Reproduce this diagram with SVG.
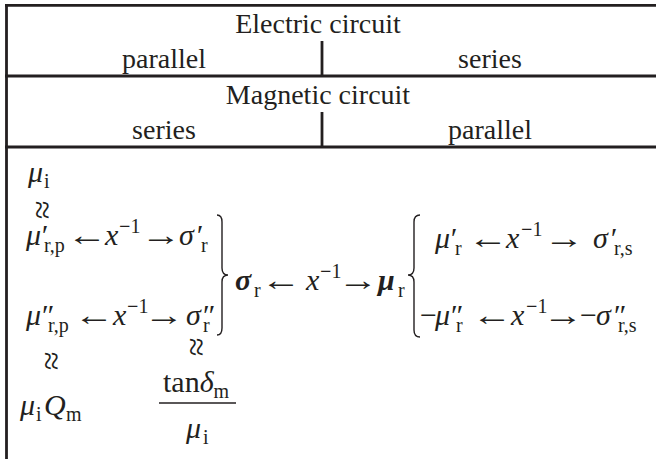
<svg xmlns="http://www.w3.org/2000/svg" width="656" height="459" viewBox="0 0 656 459">
<style>
.ln{stroke:#231f20;stroke-width:2.8;fill:none}
.br{stroke:#231f20;stroke-width:1.4;fill:none}
.t{font-family:'Liberation Serif','Times New Roman',serif;font-size:28px;fill:#231f20}
.m{font-family:'Liberation Serif','Times New Roman',serif;font-size:30px;font-style:italic;fill:#231f20}
.ar{font-family:'Liberation Serif','Times New Roman',serif;font-size:30px;fill:#231f20;text-anchor:middle}
.s{font-size:20px;font-style:normal}
.a{font-style:normal}
.b{font-weight:bold}
.w{font-family:'Liberation Serif','Times New Roman',serif;font-size:34px;fill:#231f20}
</style>
<rect width="656" height="459" fill="#fff"/>
<g id="table">
<line class="ln" x1="5" y1="5.3" x2="656" y2="5.3"/>
<line class="ln" x1="5" y1="76" x2="656" y2="76"/>
<line class="ln" x1="5" y1="147" x2="656" y2="147"/>
<line class="ln" x1="6.5" y1="4" x2="6.5" y2="459"/>
<line class="ln" x1="322" y1="41" x2="322" y2="76"/>
<line class="ln" x1="322" y1="112" x2="322" y2="147"/>
</g>
<g id="headings" class="t" text-anchor="middle">
<text x="318" y="33">Electric circuit</text>
<text x="164" y="68">parallel</text>
<text x="490" y="68">series</text>
<text x="318" y="104">Magnetic circuit</text>
<text x="164" y="139">series</text>
<text x="490" y="139">parallel</text>
</g>
<g id="mu-i-top"><text class="m" y="182"><tspan x="28">μ</tspan><tspan class="s" x="44" y="188">i</tspan></text></g>
<g id="approx-marks" class="w" text-anchor="middle">
<text transform="translate(40,210) rotate(90)" y="9">≈</text>
<text transform="translate(49,361) rotate(90)" y="9">≈</text>
<text transform="translate(194,347) rotate(90)" y="9">≈</text>
</g>
<g id="left-line1">
<text class="m" y="245"><tspan x="26">μ</tspan><tspan x="40" y="245">′</tspan><tspan class="s" x="44" y="252">r,p</tspan><tspan x="105" y="245">x</tspan><tspan class="s" x="119" y="233"><tspan class="b">−</tspan>1</tspan><tspan x="179" y="245">σ</tspan><tspan x="195" y="245">′</tspan><tspan class="s" x="201" y="252">r</tspan></text>
<text class="ar" transform="translate(87,245) scale(1.35,1)">←</text>
<text class="ar" transform="translate(161,245) scale(1.35,1)">→</text>
</g>
<g id="left-line2">
<text class="m" y="325"><tspan x="26">μ</tspan><tspan x="40" y="325">″</tspan><tspan class="s" x="48" y="332">r,p</tspan><tspan x="113" y="325">x</tspan><tspan class="s" x="127" y="313"><tspan class="b">−</tspan>1</tspan><tspan x="186" y="325">σ</tspan><tspan x="201" y="325">″</tspan><tspan class="s" x="203" y="332">r</tspan></text>
<text class="ar" transform="translate(94,325) scale(1.35,1)">←</text>
<text class="ar" transform="translate(164,325) scale(1.35,1)">→</text>
</g>
<g id="brace-right"><path class="br" d="M217,215 Q222,215 222,222 L222,268 Q222,275 228,275 Q222,275 222,282 L222,328 Q222,335 217,335"/></g>
<g id="middle">
<text class="m" y="290"><tspan class="b" x="235">σ</tspan><tspan class="s" x="254" y="297">r</tspan><tspan x="306" y="290">x</tspan><tspan class="s" x="320" y="278"><tspan class="b">−</tspan>1</tspan><tspan class="b" x="378" y="290">μ</tspan><tspan class="s" x="398" y="297">r</tspan></text>
<text class="ar" transform="translate(281,290) scale(1.35,1)">←</text>
<text class="ar" transform="translate(358,290) scale(1.35,1)">→</text>
</g>
<g id="brace-left"><path class="br" d="M420,215 Q414,215 414,222 L414,268 Q414,275 408,275 Q414,275 414,282 L414,330 Q414,337 420,337"/></g>
<g id="right-line1">
<text class="m" y="248"><tspan x="435">μ</tspan><tspan x="449" y="248">′</tspan><tspan class="s" x="455" y="255">r</tspan><tspan x="506" y="248">x</tspan><tspan class="s" x="521" y="236"><tspan class="b">−</tspan>1</tspan><tspan x="593" y="248">σ</tspan><tspan x="609" y="248">′</tspan><tspan class="s" x="614" y="255">r,s</tspan></text>
<text class="ar" transform="translate(488,248) scale(1.35,1)">←</text>
<text class="ar" transform="translate(564,248) scale(1.35,1)">→</text>
</g>
<g id="right-line2">
<text class="m" y="325"><tspan class="a" x="420">−</tspan><tspan x="435">μ</tspan><tspan x="449" y="325">″</tspan><tspan class="s" x="456" y="332">r</tspan><tspan x="511" y="325">x</tspan><tspan class="s" x="526" y="313"><tspan class="b">−</tspan>1</tspan><tspan class="a" x="580" y="325">−</tspan><tspan x="596" y="325">σ</tspan><tspan x="612" y="325">″</tspan><tspan class="s" x="618" y="332">r,s</tspan></text>
<text class="ar" transform="translate(492,325) scale(1.35,1)">←</text>
<text class="ar" transform="translate(563,325) scale(1.35,1)">→</text>
</g>
<g id="mu-i-Q-m"><text class="m" y="415"><tspan x="20">μ</tspan><tspan class="s" x="36" y="421">i</tspan><tspan x="44" y="415">Q</tspan><tspan class="s" x="66" y="421">m</tspan></text></g>
<g id="fraction">
<text class="m" y="392"><tspan class="a" x="163">tan</tspan><tspan>δ</tspan><tspan class="s" dy="6">m</tspan></text>
<line x1="159" y1="403" x2="236" y2="403" stroke="#231f20" stroke-width="1.5"/>
<text class="m" y="438"><tspan x="186">μ</tspan><tspan class="s" x="203" y="444">i</tspan></text>
</g>
</svg>
